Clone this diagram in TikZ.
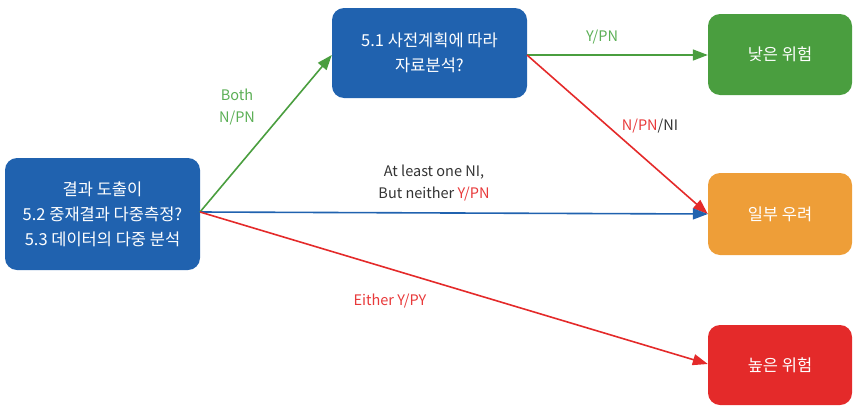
\documentclass[tikz,border=0pt]{standalone}
\usepackage{fontspec}
\setmainfont{Noto Sans CJK KR}
\usetikzlibrary{arrows.meta}
\definecolor{cblue}{HTML}{2062AF}
\definecolor{cgreen}{HTML}{4A9E3F}
\definecolor{corange}{HTML}{EE9E38}
\definecolor{cred}{HTML}{E42A2A}
\definecolor{tgreen}{HTML}{5BAF55}
\definecolor{tred}{HTML}{E8393A}
\definecolor{tdark}{HTML}{333333}
\tikzset{
  box/.style={rounded corners=12pt, text=white, align=center, inner sep=0pt,
    font=\fontsize{16.5}{25}\selectfont},
  conn/.style={line width=1.6pt, -{Triangle[length=15pt,width=11pt]}},
  lbl/.style={font=\fontsize{14.5}{22}\selectfont, align=center, inner sep=0pt}
}
\begin{document}
\begin{tikzpicture}[x=1pt,y=-1pt]
\useasboundingbox (0,0) rectangle (853,407);
\node[box, fill=cblue, minimum width=195pt, minimum height=112pt] (src) at (102.5,214)
  {결과 도출이\\5.2 중재결과 다중측정?\\5.3 데이터의 다중 분석};
\node[box, fill=cblue, minimum width=195pt, minimum height=90pt] (q51) at (429.5,53)
  {5.1 사전계획에 따라\\자료분석?};
\node[box, fill=cgreen, minimum width=144pt, minimum height=81pt] (low) at (780,54.5) {낮은 위험};
\node[box, fill=corange, minimum width=144pt, minimum height=82pt] (some) at (780,214) {일부 우려};
\node[box, fill=cred, minimum width=144pt, minimum height=80pt] (high) at (780,365) {높은 위험};

\coordinate (s) at (200,212);
\coordinate (q) at (527,55);
\draw[conn, cgreen] (s) -- (q51.west |- 0,55);
\draw[conn, cgreen] (q) -- (low.west |- 0,55);
\draw[conn, cred] (q) -- (some.west |- 0,214);
\draw[conn, cblue] (s) -- (some.west |- 0,214);
\draw[conn, cred] (s) -- (high.west |- 0,364);

\node[lbl, text=tgreen] (lboth) at (237,107) {Both\\N/PN};
\node[lbl, text=tgreen] (lypn) at (602,37) {Y/PN};
\node[lbl, text=tdark] (lnpn) at (650,126) {\textcolor{tred}{N/PN}/NI};
\node[lbl, text=tdark] (lneither) at (434,183) {At least one NI,\\But neither \textcolor{tred}{Y/PN}};
\node[lbl, text=tred] (leither) at (390,301) {Either Y/PY};
\end{tikzpicture}
\end{document}
